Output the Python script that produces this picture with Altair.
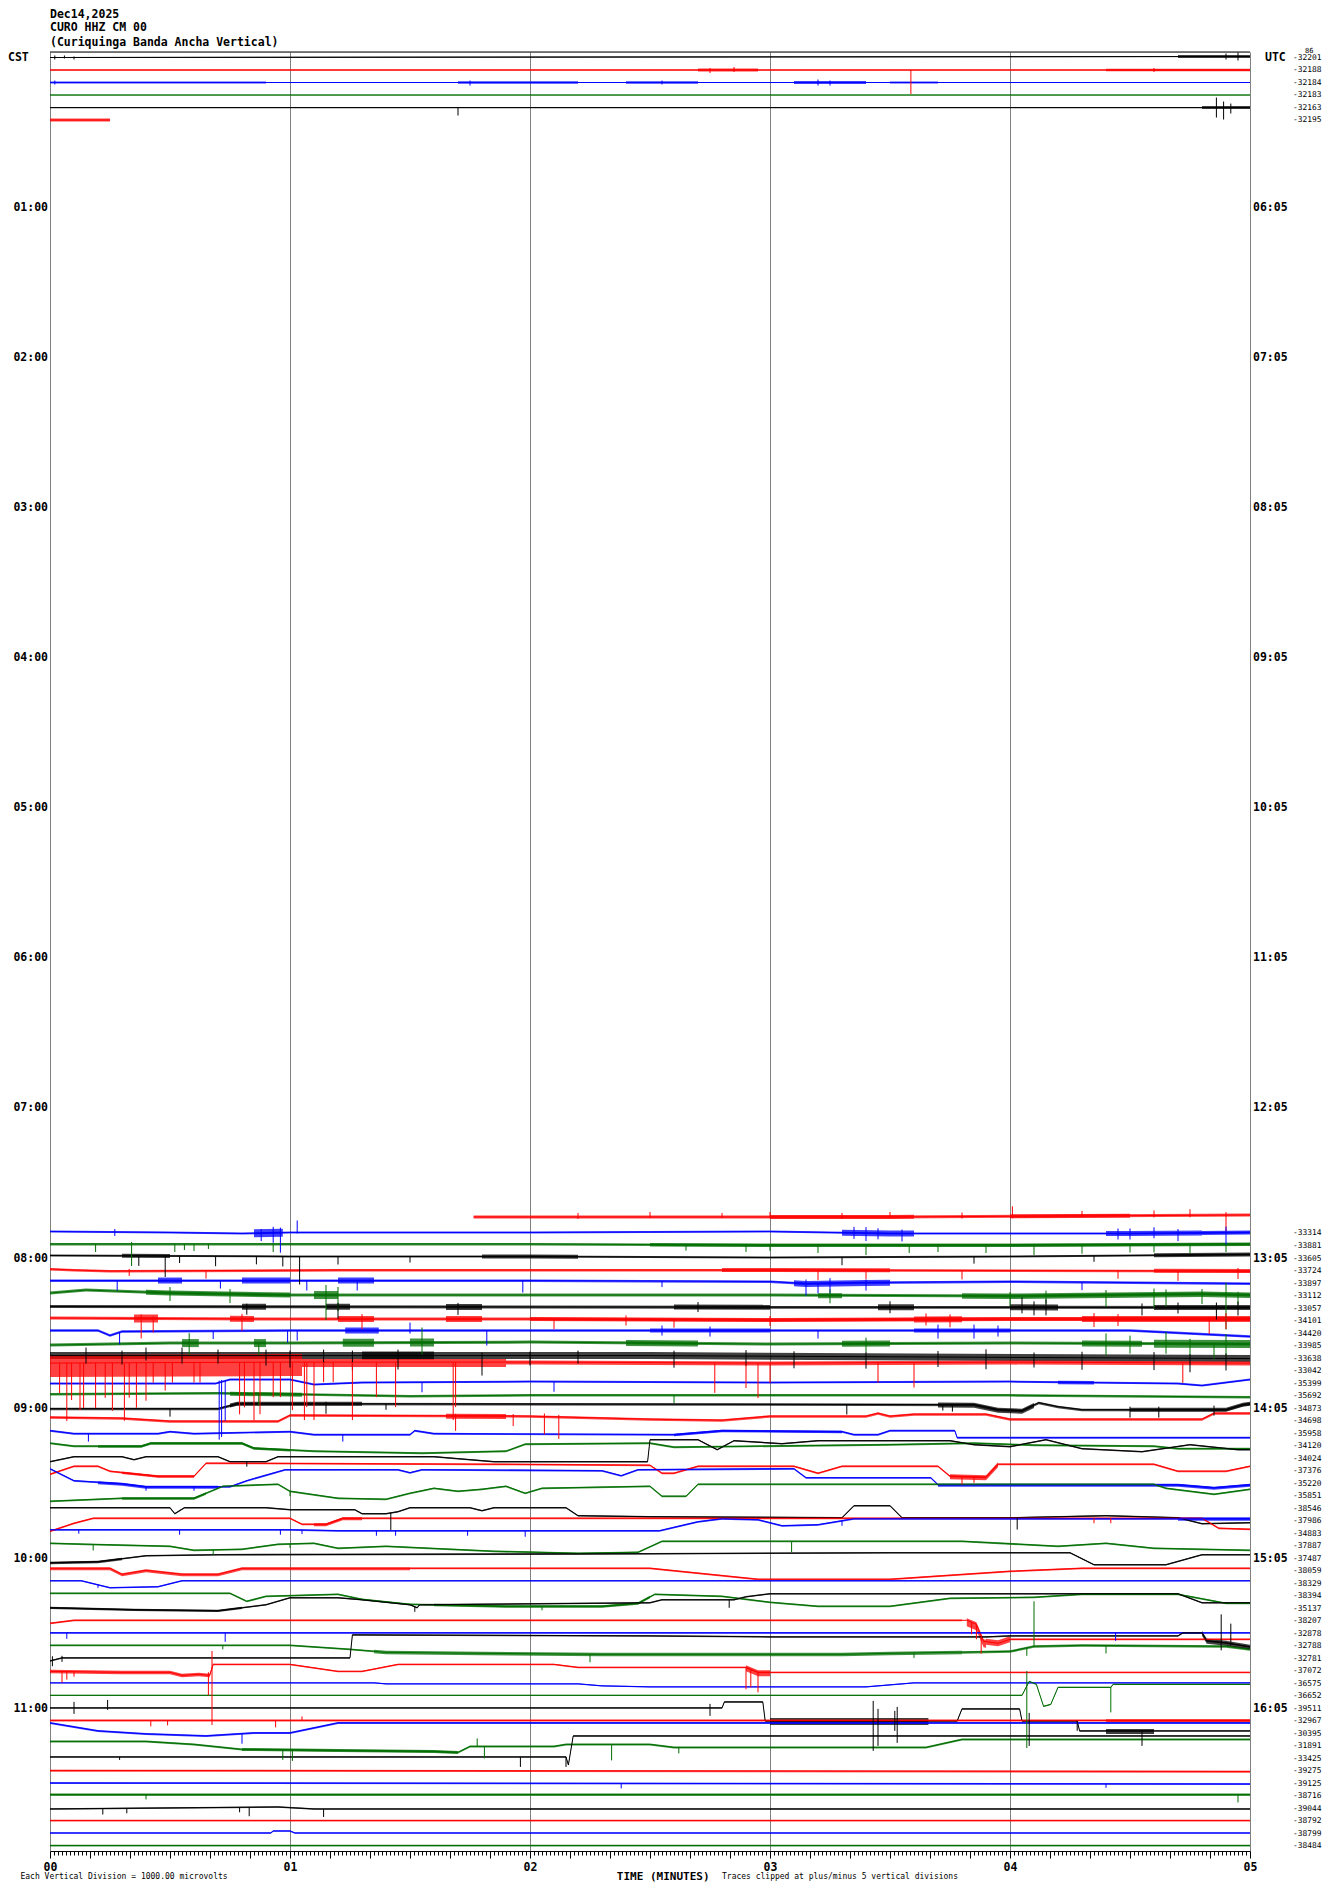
import altair as alt
import numpy as np
import pandas as pd

FONT = "DejaVu Sans Mono"
ROW_PX = 12.51          # one trace row, in pixels of the reference (offsets below were read in pixels)
Y_TOP, Y_BOTTOM = -0.44, 143.36

HEADER = ["Dec14,2025", "CURO HHZ CM 00", "(Curiquinga Banda Ancha Vertical)"]
LEFT_HOURS = ["01:00", "02:00", "03:00", "04:00", "05:00", "06:00",
              "07:00", "08:00", "09:00", "10:00", "11:00"]
RIGHT_HOURS = ["06:05", "07:05", "08:05", "09:05", "10:05", "11:05",
               "12:05", "13:05", "14:05", "15:05", "16:05"]
TOP_ROWS = [0, 1, 2, 3, 4, 5]
TOP_VALUES = ["-32201", "-32188", "-32184", "-32183", "-32163", "-32195"]
BOTTOM_ROWS = list(range(94, 144))
BOTTOM_VALUES = ["-33314", "-33881", "-33605", "-33724", "-33897", "-33112", "-33057",
                 "-34101", "-34420", "-33985", "-33638", "-33042", "-35399", "-35692",
                 "-34873", "-34698", "-35958", "-34120", "-34024", "-37376", "-35220",
                 "-35851", "-38546", "-37986", "-34883", "-37887", "-37487", "-38059",
                 "-38329", "-38394", "-35137", "-38207", "-32878", "-32788", "-32781",
                 "-37072", "-36575", "-36652", "-39511", "-32967", "-30395", "-31891",
                 "-33425", "-39275", "-39125", "-38716", "-39044", "-38792", "-38799",
                 "-38484"]
FOOTER = ["Each Vertical Division = 1000.00 microvolts", "TIME (MINUTES)",
          "Traces clipped at plus/minus 5 vertical divisions"]

# baseline of each trace: (minute, offset) ; offset > 0 = downward
BASE = {
    0: [(0, 0), (5, -1)],
    1: [(0, 0), (5, 0)],
    2: [(0, 0), (5, 0)],
    3: [(0, 0), (5, 0)],
    4: [(0, 0), (5, 0)],
    5: [(0, 0), (0.25, 0)],
    93: [(1.765, -4), (3.5, -4), (5, -6)],
    94: [(0, -2), (0.5, -1), (0.8, 0), (1.0, -1), (2.0, -1), (3.0, -2), (3.5, 0), (4.5, 0), (5, -1)],
    95: [(0, -2), (1.0, -2), (2.0, -2), (3.0, -1), (4.0, -1), (5, -2)],
    96: [(0, -3), (1.0, -2), (2, -2), (3, -1), (4, -2), (5, -4)],
    97: [(0, -2), (0.1, -1), (0.25, 0), (1.2, -1), (3.0, -1), (5, 0)],
    98: [(0, -3), (1, -3), (2, -3), (3, -2), (3.15, 0), (3.4, -1), (4, -2), (5, 0)],
    99: [(0, -3), (0.15, -6), (0.5, -3), (1.0, -1), (2.0, -1), (3.0, -1), (4.0, 0), (4.8, -2), (5, -1)],
    100: [(0, -2), (5, -1)],
    101: [(0, -3), (1, -2), (2, -2), (3, -1), (4, -2), (5, -2)],
    102: [(0, -3), (0.2, -3), (0.25, 2), (0.3, -2), (1.0, -3), (3, -3), (4.5, -3), (5, 3)],
    103: [(0, -1), (0.5, -3), (1.0, -3), (2, -4), (3, -2), (4, -3), (5, -2)],
    104: [(0, -3), (2.5, -3), (5, 0)],
    105: [(0, -8), (1, -9), (2, -9), (3, -8), (4, -9), (5, -8)],
    106: [(0, 0), (0.69, 0), (0.75, -4), (1.0, -4), (1.1, 1), (1.3, -1), (2, -2), (3, -1), (4, -2),
          (4.7, 0), (4.8, 2), (5, -4)],
    107: [(0, -2), (0.7, -3), (1.0, -2), (1.5, 0), (2, -1), (4, -1), (5, 1)],
    108: [(0, 0), (0.7, 0), (0.78, -5), (3.85, -4), (3.95, 1), (4.05, 2), (4.12, -6), (4.2, -2),
          (4.3, 1), (4.9, 1), (4.97, -4), (5, -5)],
    109: [(0, -4), (0.3, -3), (0.5, 0), (0.95, 0), (1.0, -6), (2.0, -5), (2.5, -2), (2.8, -1),
          (3.0, -5), (3.4, -5), (3.45, -8), (3.5, -5), (3.6, -7), (3.9, -7), (4.0, -2), (4.8, -2),
          (4.85, -8), (5, -8)],
    110: [(0, -3), (0.1, 0), (0.45, 0), (0.5, -2), (0.6, 0), (1.0, -2), (1.1, 1), (1.5, 1), (1.52, -3),
          (1.6, 0), (2.6, 1), (2.8, -3), (3.3, -2), (3.35, 1), (3.45, 1), (3.5, -3), (3.77, -3),
          (3.78, 4), (5, 4)],
    111: [(0, -3), (0.1, 0), (0.38, 0), (0.42, -3), (0.8, -3), (0.85, 2), (1.1, 5), (1.55, 7), (1.9, 5),
          (1.98, -2), (2.5, -3), (2.6, 1), (3.5, -1.5), (3.85, -3), (4.1, -1), (4.6, 0), (4.7, 2.5),
          (5, 2.5)],
    112: [(0, 3), (0.1, -2), (0.3, -2), (0.35, 1), (0.4, -2), (0.7, -2), (0.75, 3), (0.9, 3), (0.95, -2),
          (1.6, -2), (1.85, 3), (2.49, 3), (2.5, -19), (2.7, -19), (2.78, -9), (2.85, -18), (3.05, -15),
          (3.2, -18), (3.75, -18), (3.85, -14), (4.0, -12), (4.15, -19), (4.3, -10), (4.55, -7),
          (4.75, -14), (4.95, -9), (5, -9)],
    113: [(0, 3), (0.1, -5), (0.2, -5), (0.25, 0), (0.45, 5), (0.6, 5), (0.65, -8), (1.8, -7),
          (2.5, -6), (2.55, 2), (2.6, 2), (2.7, -5), (3.1, -5), (3.2, 2), (3.3, -5), (3.7, -5),
          (3.75, 5), (3.9, 6), (3.95, -7), (4.6, -7), (4.7, 0), (4.9, 0), (5, -5)],
    114: [(0, -15), (0.1, -3), (0.3, 0), (0.4, 3), (0.75, 3), (0.82, -3), (0.98, -14), (1.45, -14),
          (1.5, -11), (1.55, -14), (2.3, -13), (2.38, -8), (2.45, -14), (3.1, -15), (3.15, -6),
          (3.67, -6), (3.7, 1), (4.7, 1), (4.85, 4), (5, 1)],
    115: [(0, 5), (0.3, 2), (0.6, 2), (0.72, -10), (0.95, -12), (1.0, -5), (1.2, 2), (1.4, 3), (1.5, -3),
          (1.6, -8), (1.7, -5), (1.8, -7), (1.9, -10), (1.98, -3), (2.05, -8), (2.5, -10), (2.55, 0),
          (2.65, 0), (2.7, -12), (4.6, -12), (4.65, -8), (4.85, -2), (5, -7)],
    116: [(0, -1), (0.5, -1), (0.52, 5), (0.56, -1), (0.9, -1), (1.0, 1), (1.27, 1), (1.3, 5), (1.4, 5),
          (1.45, 3), (1.5, -1), (1.75, -1), (1.8, 2), (1.85, -1), (2.15, -1), (2.2, 7), (2.5, 8),
          (3.3, 9), (3.35, -3), (3.5, -3), (3.55, 9), (4.0, 9), (4.4, 7), (4.7, 9), (4.8, 15), (5, 14)],
    117: [(0, 10), (0.1, 2), (0.18, -3), (1.0, -3), (1.05, 3), (1.15, 3), (1.22, -3), (4.8, -3),
          (4.87, 7), (5, 8)],
    118: [(0, -4), (1.0, -4), (1.2, -3), (2.54, -3), (2.7, -12), (2.8, -15), (2.95, -14), (3.05, -8),
          (3.2, -9), (3.35, -15), (5, -15)],
    119: [(0, -3), (0.15, -2), (0.5, 0), (0.6, 4), (0.8, 3), (0.95, -2), (1.1, -3), (1.2, 2), (1.4, 0),
          (1.85, 5), (2.2, 7), (2.45, 6), (2.55, -5), (3.8, -5), (4.2, 0), (4.4, -3), (4.6, 2), (5, 4)],
    120: [(0, 4), (0.2, 3), (0.4, -3), (0.7, -4), (2.5, -5), (3.5, -6), (4.25, -6), (4.35, 6),
          (4.65, 6), (4.8, -4), (5, -4)],
    121: [(0, -3), (0.25, -3), (0.3, 3), (0.4, -1), (0.55, 3), (0.7, 3), (0.8, -3), (2.5, -3),
          (2.95, 8), (3.5, 8), (4.0, 0), (4.3, -3), (5, -3)],
    122: [(0, -3), (0.13, -3), (0.25, 4), (0.45, 3), (0.55, -3), (5, -3)],
    123: [(0, -3), (0.75, -3), (0.82, 5), (0.9, 0), (1.2, -2), (1.3, 3), (1.5, 8), (1.9, 10), (2.3, 10),
          (2.45, 7), (2.52, -2), (2.8, 0), (3.0, 6), (3.2, 10), (3.5, 10), (3.75, 2), (4.1, 1),
          (4.3, -2), (4.7, -2), (4.9, 7), (5, 7)],
    124: [(0, -1), (0.35, 1), (0.7, 2), (0.9, -4), (1.0, -11), (1.2, -11), (1.3, -9), (1.5, -4),
          (1.53, -1), (1.54, -4), (2.5, -6), (2.55, -9), (2.85, -9), (2.9, -12), (3.0, -15), (4.7, -15),
          (4.8, -6), (5, -6)],
    125: [(0, 2), (0.1, -1), (3.82, -1), (3.86, 3), (3.89, 20), (3.95, 22), (4.0, 18), (5, 18)],
    126: [(0, -1), (5, -1)],
    127: [(0, -1), (1.0, -1), (1.25, 3), (1.4, 6), (1.8, 7), (2.3, 8), (3.3, 8), (3.5, 7), (4.0, 5),
          (4.1, 0), (4.3, -1), (4.9, 0), (5, 3)],
    128: [(0, 2), (0.05, -1), (1.25, -1), (1.26, -24), (2.5, -23), (3.0, -22), (3.9, -22), (4.0, -23),
          (4.7, -23), (4.72, -26), (4.8, -26), (4.82, -18), (4.9, -16), (5, -12)],
    129: [(0, 0), (0.3, 1), (0.5, 1), (0.55, 4), (0.62, 3), (0.665, 4), (0.68, -7), (1.0, -7), (1.2, 0),
          (1.3, 0), (1.45, -7), (2.1, -7), (2.2, -4), (2.9, -4), (2.95, 1), (5, 1)],
    130: [(0, -1), (1.35, -1), (1.4, 0), (2.2, 0), (2.3, 2), (2.5, 3), (3.4, 3), (3.6, -1), (5, -1)],
    131: [(0, -1), (4.05, -1), (4.08, -15), (4.11, -12), (4.14, 10), (4.17, 8), (4.2, -9), (4.42, -9),
          (4.43, -12), (5, -12)],
    132: [(0, -1), (2.8, -1), (2.81, -7), (2.97, -7), (2.98, 12), (3.78, 12), (3.8, 0), (4.04, 0),
          (4.05, 12), (4.28, 12), (4.29, 22), (5, 22)],
    133: [(0, -1), (5, -1)],
    134: [(0, -11), (0.2, -3), (0.4, 0), (0.65, 2), (0.85, -1), (1.0, -1), (1.1, -6), (1.2, -11), (5, -11)],
    135: [(0, -5), (0.4, -5), (0.6, -2), (0.8, 3), (1.2, 4), (1.6, 5), (1.7, 6), (1.75, 0), (2.1, 0),
          (2.15, -2), (2.5, -2), (2.6, 1), (3.65, 1), (3.8, -7), (5, -7)],
    136: [(0, -2), (2.15, -2), (2.16, 6), (2.18, -23), (5, -23)],
    137: [(0, -1), (5, 0)],
    138: [(0, -1), (5, 0)],
    139: [(0, -2), (5, -2)],
    140: [(0, 0), (0.95, -2), (1.1, 0), (5, 0)],
    141: [(0, -1), (5, -1)],
    142: [(0, -1), (0.92, -1), (0.93, -3), (1.0, -3), (1.02, -1), (5, -1)],
    143: [(0, -1), (5, -1)],
}

# noise envelope of each trace: (from minute, to minute, up, down)
NOISE = {
    0: [(0, 5, 0.6, 0.6), (4.7, 5, 1.5, 1.5)],
    1: [(0, 5, 0.8, 0.8), (2.7, 2.95, 1.5, 1.5), (4.4, 5, 1.2, 1.2)],
    2: [(0, 0.9, 1, 1), (1.7, 2.2, 1.2, 1.2), (2.4, 2.7, 1.2, 1.2), (3.1, 3.4, 1.5, 1.5), (3.5, 3.7, 1, 1)],
    3: [(0, 5, 0.5, 0.5)],
    4: [(0, 5, 0.6, 0.6), (4.8, 5, 1.5, 1.5)],
    5: [(0, 0.25, 1.5, 1.5)],
    93: [(1.765, 5, 1.5, 1.5), (3.0, 3.6, 2, 2), (4.0, 4.5, 2, 2)],
    94: [(0, 5, 1, 1), (0.85, 0.97, 4, 4), (3.3, 3.6, 3, 3), (4.4, 4.8, 2.5, 2.5), (4.8, 5, 2, 2)],
    95: [(0, 5, 1, 1.5), (2.5, 5, 1.5, 2)],
    96: [(0, 5, 1, 1), (0.3, 0.5, 2, 2), (1.8, 2.2, 2, 2), (4.6, 5, 2, 2)],
    97: [(0, 5, 1, 1.5), (2.8, 3.5, 2, 2), (4.6, 5, 2, 2)],
    98: [(0, 5, 1, 1.5), (0.45, 0.55, 3, 3), (0.8, 1.0, 3, 3), (1.2, 1.35, 3, 3), (3.1, 3.5, 2.5, 3.5)],
    99: [(0, 5, 1.5, 1.5), (0.4, 1.0, 2.5, 2.5), (1.1, 1.2, 4, 4), (3.2, 3.3, 2, 3), (3.8, 5, 2.5, 3)],
    100: [(0, 5, 1.5, 1.5), (0.8, 0.9, 3, 3), (1.15, 1.25, 3, 3), (1.65, 1.8, 3, 3), (2.6, 3.0, 2.5, 2.5),
          (3.45, 3.6, 3, 3), (4.0, 4.2, 3, 3), (4.6, 5, 2.5, 2.5)],
    101: [(0, 5, 1.5, 1.5), (0.35, 0.45, 4, 4), (0.75, 0.85, 3, 3), (1.2, 1.35, 3, 3), (1.65, 1.8, 3, 3),
          (2.0, 5, 2, 2), (3.6, 3.8, 3, 3), (4.3, 5, 3, 3)],
    102: [(0, 5, 1.2, 1.2), (1.23, 1.37, 3, 3), (2.5, 3.0, 2, 2), (3.6, 4.0, 2, 2)],
    103: [(0, 5, 1.5, 1.5), (0.55, 0.62, 4, 4), (0.85, 0.9, 4, 4), (1.22, 1.35, 4, 4), (1.5, 1.6, 4, 4),
          (2.4, 2.7, 3, 3), (3.3, 3.5, 3, 3), (4.3, 4.55, 3, 3), (4.6, 5, 4, 4)],
    104: [(0, 5, 3.5, 3.5), (1.3, 1.6, 4, 4)],
    105: [(0, 1.05, 8, 14), (1.05, 1.9, 3, 5), (1.9, 5, 1.5, 2.5)],
    106: [(0, 5, 1, 1), (4.2, 4.35, 1.5, 2)],
    107: [(0, 5, 1, 1.5), (0.75, 1.05, 1.5, 2.5)],
    108: [(0, 5, 1, 1.5), (0.75, 1.3, 2, 2), (3.7, 4.1, 2, 3), (4.5, 5, 2, 2)],
    109: [(0, 5, 1, 1.5), (1.65, 1.9, 2, 3)],
    110: [(0, 5, 0.8, 1), (2.6, 3.3, 1, 1.5)],
    111: [(0, 5, 0.8, 1), (0.2, 1.0, 1, 1.5)],
    112: [(0, 5, 0.7, 0.8)],
    113: [(0, 5, 0.8, 1), (0.3, 0.6, 1, 1.5), (3.75, 3.95, 2, 3)],
    114: [(0, 5, 0.8, 1), (0.2, 0.7, 1, 2), (3.7, 5, 1, 2)],
    115: [(0, 5, 0.8, 1), (0.3, 0.65, 1, 1.5)],
    116: [(0, 5, 0.7, 0.8)],
    117: [(0, 5, 0.7, 1), (1.1, 1.3, 1, 2)],
    118: [(0, 5, 0.8, 1), (4.7, 5, 1.5, 2)],
    119: [(0, 5, 0.8, 1)],
    120: [(0, 0.3, 1, 1.5), (0, 5, 0.8, 0.8)],
    121: [(0, 1.5, 1, 2), (1.5, 5, 0.7, 1)],
    122: [(0, 5, 0.7, 0.8)],
    123: [(0, 5, 0.8, 1), (1.6, 2.5, 1, 1.5)],
    124: [(0, 5, 0.8, 0.8), (0, 0.8, 1, 1.2)],
    125: [(0, 3.8, 0.8, 1), (3.82, 3.9, 2, 6), (3.9, 4.0, 3, 3), (4.0, 5, 0.8, 1)],
    126: [(0, 5, 0.8, 1)],
    127: [(0, 1.35, 0.8, 1), (1.35, 3.8, 1.5, 2), (3.8, 5, 1, 1.5)],
    128: [(0, 5, 0.7, 0.8), (4.8, 5, 2, 3)],
    129: [(0, 0.68, 1.5, 2), (0.68, 5, 0.7, 0.8), (2.9, 3.0, 2, 4)],
    130: [(0, 5, 0.6, 0.7)],
    131: [(0, 5, 0.6, 0.7)],
    132: [(0, 5, 0.7, 0.8), (3.0, 3.66, 3, 4), (4.4, 4.6, 2, 3)],
    133: [(0, 5, 0.8, 1.2), (4.4, 5, 1.2, 1.5)],
    134: [(0, 5, 0.8, 1.2)],
    135: [(0, 5, 0.8, 1), (0.8, 1.7, 1.5, 1.5)],
    136: [(0, 5, 0.7, 0.8)],
    137: [(0, 5, 0.8, 1.2)],
    138: [(0, 5, 0.8, 1)],
    139: [(0, 5, 1, 1.5)],
    140: [(0, 5, 0.7, 0.8)],
    141: [(0, 5, 0.8, 1)],
    142: [(0, 5, 0.8, 0.8)],
    143: [(0, 5, 0.8, 1)],
}

# isolated spikes: (minute, top, bottom) relative to the trace's baseline
SPIKES = {
    0: [(0.02, -2, 2), (0.06, -2, 1), (0.1, -1, 2), (4.9, -3, 3), (4.95, -4, 4)],
    1: [(3.587, 0, 24), (2.75, -2, 3), (2.85, -3, 2), (4.6, -2, 2)],
    2: [(0.02, -2, 2), (1.75, -2, 3), (2.55, -2, 2), (3.2, -3, 3), (3.25, -2, 3)],
    4: [(1.70, 0, 8), (4.86, -10, 10), (4.89, -6, 12), (4.92, -4, 6)],
    93: [(4.01, -10, 2), (4.9, -3, 16), (3.0, -5, 1), (2.2, -4, 2), (3.3, -4, 2), (4.6, -5, 2),
         (2.5, -5, 1), (2.8, -4, 1), (3.5, -5, 1), (3.8, -4, 2), (4.3, -5, 1), (4.75, -6, 2)],
    94: [(0.88, -4, 8), (0.93, -6, 10), (0.96, -5, 20), (1.03, -12, 1), (0.27, -3, 4), (3.35, -6, 6),
         (3.55, -4, 8), (4.45, -5, 6), (4.9, -6, 12), (3.4, -6, 8), (3.45, -5, 6), (4.5, -5, 6),
         (4.6, -6, 5), (4.7, -4, 8)],
    95: [(0.19, 0, 8), (0.34, -2, 22), (0.52, 0, 8), (0.56, 0, 6), (0.6, 0, 7), (0.66, 0, 5), (0.93, 0, 8),
         (3.4, 0, 10), (3.58, 0, 8), (4.1, 0, 10), (4.5, 0, 8), (4.75, 0, 9), (2.65, 0, 6), (3.0, 0, 6),
         (2.9, 0, 7), (3.2, 0, 8), (3.7, 0, 7), (3.9, 0, 8), (4.3, 0, 9), (4.6, 0, 8), (4.9, 0, 8)],
    96: [(0.37, 0, 10), (0.48, 0, 21), (0.54, 0, 7), (0.69, 0, 10), (0.86, 0, 8), (0.97, 0, 10),
         (1.04, 0, 28), (1.2, 0, 8), (1.5, 0, 6), (3.3, 0, 8), (3.85, 0, 7), (4.35, 0, 6)],
    97: [(0.65, 0, 8), (0.33, -2, 5), (3.2, 0, 10), (3.4, 0, 9), (3.8, 0, 9), (4.45, 0, 8), (4.7, 0, 10),
         (4.95, -3, 8)],
    98: [(0.28, 0, 10), (0.71, 0, 8), (1.07, 0, 10), (1.28, 0, 10), (1.97, 0, 12), (3.2, 0, 10), (4.3, 0, 8),
         (3.15, -4, 12), (3.25, -5, 10), (3.4, -3, 8), (2.55, 0, 6)],
    99: [(0.5, -6, 8), (0.75, -5, 9), (1.15, -10, 25), (1.2, -8, 16), (4.65, -5, 12), (4.9, -12, 35),
         (4.95, -3, 10), (4.0, -4, 10), (4.4, -5, 12), (4.6, -6, 14), (4.8, -5, 10), (3.25, -6, 8),
         (4.15, -5, 8)],
    100: [(0.82, -3, 8), (1.2, -4, 12), (1.7, -4, 8), (4.1, -6, 8), (4.55, -4, 8), (4.86, -5, 12),
          (3.5, -6, 6), (4.05, -10, 6), (4.15, -8, 8), (4.7, -5, 6), (4.95, -6, 8), (2.7, -5, 5)],
    101: [(0.38, -4, 20), (0.43, -2, 14), (0.8, -5, 12), (1.3, -5, 10), (2.1, 0, 10), (2.6, 0, 8),
          (4.83, -2, 15), (4.9, -6, 10), (3.65, -6, 6), (3.75, -5, 8), (4.35, -6, 8), (4.45, -5, 7),
          (2.4, -4, 6), (3.0, -4, 6)],
    102: [(0.29, 0, 12), (0.68, 0, 8), (0.99, 0, 12), (1.03, 0, 10), (1.5, -8, 3), (1.82, 0, 15), (3.2, 0, 8),
          (2.55, -5, 5), (2.75, -4, 6), (3.7, -6, 8), (3.85, -6, 8), (3.95, -5, 6)],
    103: [(0.58, -10, 12), (0.87, 0, 12), (1.55, -15, 12), (4.75, -5, 12), (4.85, 0, 15),
          (4.4, -10, 12), (4.5, -8, 10), (4.65, -12, 10), (4.9, -10, 12), (3.4, -6, 8)],
    104: [(0.15, -8, 8), (0.4, -8, 5), (0.55, -8, 8), (1.14, -6, 12), (1.26, -5, 15), (1.8, -3, 20),
          (2.6, -5, 12), (3.4, -5, 12), (4.3, -6, 12), (4.9, -5, 12), (2.9, -6, 10), (3.1, -5, 12),
          (3.7, -6, 10), (3.9, -8, 12), (4.1, -5, 10), (4.6, -6, 12), (4.75, -4, 14), (0.9, -6, 10),
          (1.0, -5, 12), (0.7, -6, 8), (0.3, -5, 9), (2.2, -5, 8), (2.0, -4, 10), (1.45, -6, 14)],
    105: [(0.04, 0, 30), (0.07, 0, 58), (0.09, 0, 37), (0.125, 0, 47), (0.14, 0, 45), (0.19, 0, 45),
          (0.23, 0, 35), (0.26, 0, 48), (0.31, 0, 58), (0.33, 0, 35), (0.36, 0, 45), (0.40, 0, 38),
          (0.43, 0, 20), (0.48, 0, 28), (0.51, 0, 20), (0.60, 0, 20), (0.625, 0, 20), (0.79, 0, 52),
          (0.81, 0, 45), (0.85, 0, 58), (0.875, 0, 52), (0.93, 0, 35), (0.96, 0, 35), (1.01, 0, 48),
          (1.06, 0, 58), (1.07, 0, 45), (1.10, 0, 58), (1.14, 0, 20), (1.18, 0, 20), (1.26, 0, 58),
          (1.36, 0, 35), (1.44, 0, 45), (1.68, 0, 58), (1.69, 0, 45), (2.77, 0, 30), (2.9, 0, 25),
          (2.95, 0, 35), (3.0, 0, 20), (3.45, 0, 20), (3.6, 0, 25), (4.72, 0, 20)],
    106: [(0.705, -2, 57), (0.715, -2, 55), (0.73, 0, 40), (1.55, 0, 10), (2.1, 0, 10)],
    107: [(0.87, 0, 12), (2.6, 0, 8)],
    108: [(0.5, 0, 8), (1.15, -2, 10), (1.4, 0, 6), (3.32, 0, 10), (3.72, 0, 6), (3.76, 0, 7),
          (4.5, -3, 8), (4.62, -3, 8), (4.85, -4, 6)],
    109: [(1.69, -2, 15), (1.93, -2, 10), (2.06, -3, 18), (2.12, -2, 22)],
    110: [(0.16, 0, 8), (1.22, 0, 7)],
    112: [(0.82, 0, 5)],
    113: [(3.8, 0, 8), (3.85, 0, 6)],
    114: [(0.4, 0, 4), (0.6, 0, 4)],
    115: [(1.0, 0, 5)],
    116: [(1.42, 0, 17), (4.03, 0, 12)],
    117: [(4.35, 0, 5), (4.42, 0, 5)],
    118: [(0.12, 0, 4), (0.54, 0, 5), (0.96, 0, 5), (1.05, 0, 4), (1.36, 0, 5), (1.44, 0, 5),
          (1.74, 0, 5), (1.98, 0, 6), (3.3, 0, 5)],
    119: [(0.18, 0, 6), (0.68, 0, 5), (3.09, 0, 11), (1.0, 0, 4)],
    122: [(0.2, 0, 3)],
    123: [(2.05, 0, 4)],
    124: [(2.83, 0, 8), (1.52, 0, 5)],
    125: [(3.84, 0, 12), (3.86, 0, 15), (3.88, 0, 18)],
    126: [(0.07, 0, 6), (0.73, 0, 9), (4.44, 0, 8)],
    127: [(0.72, 0, 4), (2.25, 0, 8), (4.07, 0, 8), (4.4, 0, 8), (3.6, 0, 5), (4.1, -45, 0)],
    128: [(0.01, -4, 6), (0.05, -2, 4), (4.88, -28, 8), (4.92, -20, 2)],
    129: [(0.05, 0, 11), (0.07, 0, 8), (0.1, 0, 5), (0.675, -17, 57), (0.66, -3, 20), (2.9, 0, 22),
          (2.92, 0, 18), (2.95, 0, 20)],
    131: [(4.07, -15, 62), (4.42, 0, 25)],
    132: [(0.1, -6, 6), (0.24, -8, 2), (2.75, -4, 8), (3.43, -20, 30), (3.45, -12, 25), (3.53, -14, 22),
          (3.52, -10, 10), (4.08, -8, 25), (4.28, 0, 10), (4.55, 0, 15)],
    133: [(0.42, 0, 6), (0.49, 0, 5), (0.94, 0, 7), (1.05, -4, 0)],
    134: [(0.8, 0, 10)],
    135: [(0.97, 0, 10), (1.01, 0, 11), (1.81, 0, 12), (2.34, 0, 16), (2.62, 0, 6), (1.78, -8, 0)],
    136: [(0.29, 0, 3), (1.96, 0, 10), (2.15, 0, 10)],
    138: [(2.38, 0, 5), (4.4, 0, 4)],
    139: [(0.4, 0, 5), (4.95, 0, 8)],
    140: [(0.22, 0, 6), (0.32, 0, 5), (0.79, 0, 5), (0.83, 0, 9), (1.14, 0, 8)],
}

COLORS = ["#000000", "#ff0000", "#0000ff", "#006e00"]

# ---------------------------------------------------------------- build tables
line_rows, area_rows, spike_rows = [], [], []
for r, pts in BASE.items():
    c = COLORS[r % 4]
    xs = [p[0] for p in pts]
    ds = [p[1] for p in pts]
    for k, (x, d) in enumerate(pts):
        line_rows.append(dict(row=r, k=k, x=x, y=r + d / ROW_PX, c=c))
    for s, (x0, x1, up, dn) in enumerate(NOISE.get(r, [])):
        x0, x1 = max(x0, xs[0]), min(x1, xs[-1])
        seq = [x0] + [x for x in xs if x0 < x < x1] + [x1]
        for k, x in enumerate(seq):
            d = float(np.interp(x, xs, ds))
            area_rows.append(dict(seg=f"{r}-{s}", k=k, x=x, y=r + (d - up) / ROW_PX,
                                  y2=r + (d + dn) / ROW_PX, c=c))
    for (x, t, b) in SPIKES.get(r, []):
        d = float(np.interp(x, xs, ds))
        spike_rows.append(dict(x=x, y=r + (d + t) / ROW_PX, y2=r + (d + b) / ROW_PX, c=c))

lines = pd.DataFrame(line_rows)
areas = pd.DataFrame(area_rows)
spikes = pd.DataFrame(spike_rows)

hour_rows = [12 * (h + 1) for h in range(11)]
left_lab = pd.DataFrame({"x": 0.0, "y": hour_rows, "t": LEFT_HOURS})
right_lab = pd.DataFrame({"x": 5.0, "y": hour_rows, "t": RIGHT_HOURS})
val_lab = pd.DataFrame({"x": 5.0, "y": TOP_ROWS + BOTTOM_ROWS, "t": TOP_VALUES + BOTTOM_VALUES})
head = pd.DataFrame({"x": 0.0, "y": [-3.417, -2.334, -1.159], "t": HEADER})

sec_vals = [s / 60 for s in range(301)]
xscale = alt.Scale(domain=[0, 5], nice=False, zero=False)
yscale = alt.Scale(domain=[Y_TOP, Y_BOTTOM], nice=False, zero=False, reverse=True)
xaxis = alt.Axis(
    values=sec_vals,
    labelExpr="round(datum.value*60) % 60 == 0 ? '0' + round(datum.value) : ''",
    labelOverlap=False, labelFlush=False, labelBound=False,
    labelFont=FONT, labelFontSize=11.5, labelFontWeight="bold", labelColor="black",
    labelPadding=3,
    tickSize={"condition": {"test": "round(datum.value*60) % 10 == 0", "value": 7}, "value": 4},
    tickColor="black", tickWidth=1,
    domainColor="black", domainWidth=1,
    grid=True, gridColor="#808080", gridWidth=1,
    gridOpacity={"condition": {"test": "round(datum.value*60) % 60 == 0", "value": 1}, "value": 0},
    title=None,
)


def X():
    return alt.X("x:Q", scale=xscale, axis=xaxis)


def Y(field="y:Q"):
    return alt.Y(field, scale=yscale, axis=None)


base_line = alt.Chart(lines).mark_line(strokeWidth=1, interpolate="linear").encode(
    x=X(), y=Y(), color=alt.Color("c:N", scale=None), detail="row:N", order="k:Q")

noise = alt.Chart(areas).mark_area(opacity=0.75, interpolate="linear").encode(
    x=X(), y=Y(), y2="y2:Q", color=alt.Color("c:N", scale=None), detail="seg:N")

spk = alt.Chart(spikes).mark_rule(strokeWidth=1).encode(
    x=X(), y=Y(), y2="y2:Q", color=alt.Color("c:N", scale=None))

frame_top = alt.Chart(pd.DataFrame({"x": [0.0], "x2": [5.0], "y": [Y_TOP]})).mark_rule(
    color="black", strokeWidth=1).encode(x=X(), x2="x2:Q", y=Y())


def text_layer(df, size, align, dx=0, dy=0, bold=True):
    kw = dict(font=FONT, fontSize=size, align=align, baseline="middle", dx=dx, dy=dy, color="black")
    if bold:
        kw["fontWeight"] = "bold"
    return alt.Chart(df).mark_text(**kw).encode(x=X(), y=Y(), text="t:N")


txt_head = text_layer(head, 11.5, "left")
txt_left = text_layer(left_lab, 11.5, "right", dx=-2)
txt_right = text_layer(right_lab, 11.5, "left", dx=3)
txt_vals = text_layer(val_lab, 7.9, "left", dx=43, bold=False)
txt_cst = text_layer(pd.DataFrame({"x": [0.0], "y": [0.0], "t": ["CST"]}), 11.5, "left", dx=-42)
txt_utc = text_layer(pd.DataFrame({"x": [5.0], "y": [0.0], "t": ["UTC"]}), 11.5, "left", dx=15)
txt_86 = text_layer(pd.DataFrame({"x": [5.0], "y": [-0.3], "t": ["86"]}), 7.0, "left", dx=55, dy=-3,
                    bold=False)
foot_small = pd.DataFrame({"x": [-0.123, 2.8], "y": [145.45, 145.45], "t": [FOOTER[0], FOOTER[2]]})
foot_big = pd.DataFrame({"x": [2.555], "y": [145.4], "t": [FOOTER[1]]})
txt_foot1 = text_layer(foot_small, 8.0, "left", bold=False)
txt_foot2 = text_layer(foot_big, 11.0, "center")

chart = alt.layer(
    noise, base_line, spk, frame_top, txt_head, txt_left, txt_right, txt_vals, txt_cst, txt_utc,
    txt_86, txt_foot1, txt_foot2,
).properties(
    width=1200, height=1799, padding=0,
).configure_view(strokeWidth=0).configure(background="white")

chart.save("out.html", embed_options={"renderer": "svg", "actions": False})
